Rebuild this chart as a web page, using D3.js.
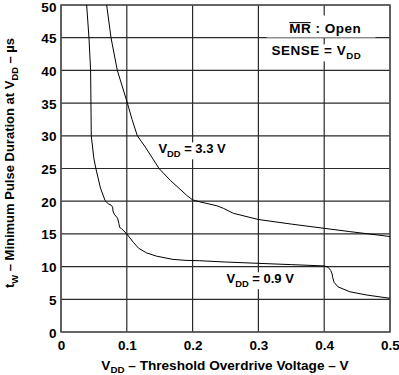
<!DOCTYPE html>
<html lang="en">
<head>
<meta charset="UTF-8">
<title>Minimum Pulse Duration vs Threshold Overdrive</title>
<script src="https://d3js.org/d3.v7.min.js"></script>
<style>
    body { margin: 0; background: #fff; }
    text { font-family: "Liberation Sans", Arial, sans-serif; font-weight: bold; fill: #000; }
</style>
</head>
<body>
<div id="chart"></div>
<script>
    // V_DD = 0.9 V curve (overdrive in V, pulse width in us)
    var v09X = [0.039, 0.0425, 0.045, 0.0455, 0.046, 0.050, 0.053, 0.060, 0.067, 0.072, 0.076, 0.0785,
                0.079, 0.081, 0.086, 0.088, 0.089, 0.092, 0.100, 0.110, 0.118, 0.130, 0.145, 0.170,
                0.190, 0.210, 0.250, 0.300, 0.350, 0.400, 0.406, 0.410, 0.412, 0.413, 0.415, 0.421,
                0.439, 0.465, 0.500];
    var v09Y = [50, 45, 40, 35, 30, 26.5, 25, 22, 20.1, 19.6, 19.4, 19.1,
                18.5, 18.0, 17.4, 16.6, 16.0, 15.8, 15.0, 13.7, 12.8, 12.1, 11.6, 11.1,
                10.95, 10.9, 10.7, 10.5, 10.3, 10.1, 9.9, 9.4, 8.9, 8.3, 7.6, 6.9,
                6.15, 5.65, 5.15];

    // V_DD = 3.3 V curve
    var v33X = [0.0694, 0.076, 0.0856, 0.100, 0.108, 0.116, 0.128, 0.149, 0.166, 0.191, 0.200, 0.211,
                0.237, 0.247, 0.262, 0.300, 0.350, 0.400, 0.439, 0.500];
    var v33Y = [50, 45, 40, 35.3, 32.5, 30, 28.3, 25, 23.2, 20.9, 20.2, 19.9,
                19.3, 18.9, 18.15, 17.2, 16.5, 15.85, 15.35, 14.6];

    var xTicks = [0, 0.1, 0.2, 0.3, 0.4, 0.5];
    var xTickLabels = ["0", "0.1", "0.2", "0.3", "0.4", "0.5"];
    var yTicks = [0, 5, 10, 15, 20, 25, 30, 35, 40, 45, 50];

    var margin = { top: 5, right: 9, bottom: 43, left: 61 },
        W = 399, H = 375,
        width = W - margin.left - margin.right,
        height = H - margin.top - margin.bottom;

    var svg = d3.select("#chart").append("svg")
        .attr("width", W).attr("height", H);

    var g = svg.append("g")
        .attr("transform", "translate(" + margin.left + "," + margin.top + ")");

    var x = d3.scaleLinear().domain([0, 0.5]).range([0, width]);
    var y = d3.scaleLinear().domain([0, 50]).range([height, 0]);

    // grid
    g.selectAll(".vgrid").data(xTicks).enter().append("line")
        .attr("x1", d => x(d)).attr("x2", d => x(d))
        .attr("y1", 0).attr("y2", height)
        .attr("stroke", "#2a2a2a").attr("stroke-width", 1.2);
    g.selectAll(".hgrid").data(yTicks).enter().append("line")
        .attr("y1", d => y(d)).attr("y2", d => y(d))
        .attr("x1", 0).attr("x2", width)
        .attr("stroke", "#2a2a2a").attr("stroke-width", 1.2);

    // frame
    g.append("rect")
        .attr("width", width).attr("height", height)
        .attr("fill", "none").attr("stroke", "#555").attr("stroke-width", 1.5);

    // curves
    var line = d3.line().x(d => x(d[0])).y(d => y(d[1]));
    g.append("path").datum(d3.zip(v09X, v09Y))
        .attr("d", line).attr("fill", "none").attr("stroke", "#000").attr("stroke-width", 1);
    g.append("path").datum(d3.zip(v33X, v33Y))
        .attr("d", line).attr("fill", "none").attr("stroke", "#000").attr("stroke-width", 1);

    // tick labels
    var yAxis = d3.axisLeft(y).tickValues(yTicks).tickSize(0).tickPadding(4);
    var ya = g.append("g").call(yAxis);
    ya.select(".domain").remove();
    ya.selectAll("text").style("font-size", "13.5px").style("letter-spacing", "0.4px")
        .attr("dy", d => d === 50 ? "0.45em" : "0.37em");   // top label would touch the edge

    var xAxis = d3.axisBottom(x).tickValues(xTicks).tickSize(0).tickPadding(0)
        .tickFormat((d, i) => xTickLabels[i]);
    var xa = g.append("g").attr("transform", "translate(0," + height + ")").call(xAxis);
    xa.select(".domain").remove();
    xa.selectAll("text").style("font-size", "13.5px").attr("dy", null).attr("y", 18);

    // helper: text with subscript parts [[txt, isSub], ...]
    function richText(parent, parts, size, shift) {
        var t = parent.append("text").style("font-size", size + "px");
        var sub = false;
        shift = shift || size * 0.3;
        parts.forEach(function (p) {
            var ts = t.append("tspan").text(p[0]);
            if (p[1] && !sub) { ts.attr("dy", shift).style("font-size", (size * 0.72) + "px"); sub = true; }
            else if (!p[1] && sub) { ts.attr("dy", -shift); sub = false; }
            else if (p[1]) { ts.style("font-size", (size * 0.72) + "px"); }
        });
        return t;
    }

    function whiteBack(parent, t, pad) {
        var b = t.node().getBBox();
        parent.insert("rect", function () { return t.node(); })
            .attr("x", b.x - pad).attr("y", b.y - pad + 2)
            .attr("width", b.width + 2 * pad).attr("height", b.height + 2 * pad - 3)
            .attr("fill", "#fff");
    }

    // axis titles
    richText(svg, [["V", 0], ["DD", 1], [" \u2013 Threshold Overdrive Voltage \u2013 V", 0]], 13.6, 2.6)
        .attr("x", 225).attr("y", 370).attr("text-anchor", "middle");

    richText(svg, [["t", 0], ["W", 1], [" \u2013 Minimum Pulse Duration at V", 0], ["DD", 1], [" \u2013 \u00b5s", 0]], 13)
        .attr("text-anchor", "middle")
        .attr("transform", "translate(14,163) rotate(-90)");

    // curve labels
    var ann = g.append("g");
    var l33 = richText(ann, [["V", 0], ["DD", 1], [" = 3.3 V", 0]], 13)
        .attr("x", x(0.148)).attr("y", y(27.3));
    whiteBack(ann, l33, 1);
    var l09 = richText(ann, [["V", 0], ["DD", 1], [" = 0.9 V", 0]], 13)
        .attr("x", x(0.2515)).attr("y", y(7.45));
    whiteBack(ann, l09, 1);

    // conditions box
    ann.append("rect")
        .attr("x", x(0.3125)).attr("y", y(48.4))
        .attr("width", x(0.1655)).attr("height", 22)
        .attr("fill", "#fff");
    var mr = ann.append("text").style("font-size", "13.5px").style("letter-spacing", "0.5px")
        .attr("x", x(0.4563)).attr("y", y(45.7)).attr("text-anchor", "end");
    mr.append("tspan").text("MR");
    mr.append("tspan").text(" : Open");
    var e0 = mr.node().getExtentOfChar(0), e1 = mr.node().getExtentOfChar(1);
    ann.append("line")
        .attr("x1", e0.x).attr("x2", e1.x + e1.width - 0.5)
        .attr("y1", e0.y + 1.5).attr("y2", e0.y + 1.5)
        .attr("stroke", "#000").attr("stroke-width", 1);

    var sense = richText(ann, [["SENSE = V", 0], ["DD", 1]], 13.5)
        .style("letter-spacing", "0.5px")
        .attr("x", x(0.4563)).attr("y", y(42.3)).attr("text-anchor", "end");
    whiteBack(ann, sense, 1);
</script>
</body>
</html>
